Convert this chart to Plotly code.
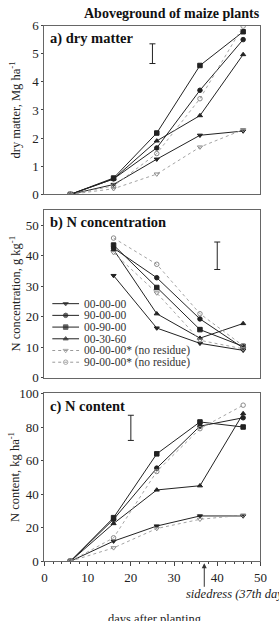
import plotly.graph_objects as go

W, H = 279, 621
days = [6, 16, 26, 36, 46]
series = ["00-00-00", "90-00-00", "00-90-00", "00-30-60",
          "00-00-00* (no residue)", "90-00-00* (no residue)"]

dry = {
    "00-00-00": [0, 0.35, 1.25, 2.1, 2.25],
    "90-00-00": [0, 0.55, 1.65, 3.7, 5.5],
    "00-90-00": [0, 0.58, 2.18, 4.58, 5.78],
    "00-30-60": [0, 0.55, 1.9, 2.8, 4.97],
    "00-00-00* (no residue)": [0, 0.2, 0.72, 1.68, 2.3],
    "90-00-00* (no residue)": [0, 0.3, 1.45, 3.4, 5.98],
}
nconc = {
    "00-00-00": [None, 33.5, 16.3, 11.3, 9.0],
    "90-00-00": [None, 42.5, 32.8, 19.3, 9.8],
    "00-90-00": [None, 43.5, 29.6, 15.8, 10.3],
    "00-30-60": [None, 42.0, 21.0, 13.0, 17.8],
    "00-00-00* (no residue)": [None, 41.0, 27.8, 12.3, 9.5],
    "90-00-00* (no residue)": [None, 45.8, 37.2, 21.0, 10.5],
}
ncont = {
    "00-00-00": [0, 12, 21, 27, 27],
    "90-00-00": [0, 25, 55.5, 80.5, 85.5],
    "00-90-00": [0, 26, 64, 83, 80],
    "00-30-60": [0, 22.5, 42.5, 45, 88],
    "00-00-00* (no residue)": [0, 8, 19.5, 25, 27.5],
    "90-00-00* (no residue)": [0, 14, 53.5, 79, 93],
}
# LSD-type error bars: x position, centre, half-length
err_x = [25, 40, 20]
err_y = [5.0, 40.0, 79.5]
err_h = [0.35, 4.5, 7.5]

styles = {
    "00-00-00": ("triangle-down", "#222", "solid"),
    "90-00-00": ("circle", "#222", "solid"),
    "00-90-00": ("square", "#222", "solid"),
    "00-30-60": ("triangle-up", "#222", "solid"),
    "00-00-00* (no residue)": ("triangle-down-open", "#8a8a8a", "dot"),
    "90-00-00* (no residue)": ("circle-open", "#8a8a8a", "dot"),
}

FONT = "Liberation Serif, Times New Roman, serif"
fig = go.Figure()

def px_y(top, bottom):
    return [1 - bottom / H, 1 - top / H]

xdom = [43 / W, 267 / W]
panels = [
    ("x", "y", dry, px_y(19, 192), [0, 6], 1, "a) dry matter", "dry matter, Mg ha<sup>-1</sup>"),
    ("x2", "y2", nconc, px_y(208, 380), [0, 55], 10, "b) N concentration", "N concentration, g kg<sup>-1</sup>"),
    ("x3", "y3", ncont, px_y(396, 568), [0, 100], 20, "c) N content", "N content, kg ha<sup>-1</sup>"),
]

layout = dict(width=W, height=H, margin=dict(l=0, r=0, t=0, b=0),
              paper_bgcolor="white", plot_bgcolor="white",
              showlegend=False, font=dict(family=FONT, size=13, color="#222"))
annotations = []
for i, (xa, ya, data, ydom, yr, dt, lab, ytitle) in enumerate(panels):
    for s in series:
        sym, col, dash = styles[s]
        lw = 1 if dash == "solid" else 0.9
        lc = col if dash == "solid" else "#9a9a9a"
        fig.add_trace(go.Scatter(x=days, y=data[s], xaxis=xa, yaxis=ya, mode="lines+markers",
                                 line=dict(color=lc, width=lw, dash=dash),
                                 marker=dict(symbol=sym, size=4.5, color=col, line=dict(color=col, width=1)),
                                 name=s))
    fig.add_trace(go.Scatter(x=[err_x[i]], y=[err_y[i]], xaxis=xa, yaxis=ya, mode="markers",
                             marker=dict(size=0.1, color="rgba(0,0,0,0)"),
                             error_y=dict(type="data", array=[err_h[i]], color="#222", thickness=1, width=3)))
    xkey = "xaxis" + ("" if i == 0 else str(i + 1))
    ykey = "yaxis" + ("" if i == 0 else str(i + 1))
    last = i == 2
    layout[xkey] = dict(domain=xdom, range=[0, 50], anchor=ya, showgrid=False, zeroline=False,
                        showline=True, mirror=True, linecolor="#666", linewidth=1,
                        showticklabels=last, ticks="outside" if last else "", ticklen=4,
                        tickcolor="#444", dtick=10, tickfont=dict(size=13, family=FONT),
                        minor=dict(ticks="outside" if last else "", dtick=2, ticklen=2, tickcolor="#444"))
    layout[ykey] = dict(domain=ydom, range=yr, anchor=xa, showgrid=False, zeroline=False,
                        showline=True, mirror=True, linecolor="#666", linewidth=1,
                        ticks="outside", ticklen=2, tickcolor="#444", dtick=dt,
                        tickfont=dict(size=13, family=FONT))
    annotations.append(dict(text="<b>" + lab + "</b>", xref="paper", yref="paper",
                            x=47 / W, y=ydom[1] - 13 / H, xanchor="left", yanchor="middle",
                            showarrow=False, font=dict(size=14.5, family=FONT, color="#111")))
    annotations.append(dict(text=ytitle, xref="paper", yref="paper", textangle=-90,
                            x=12 / W, y=(ydom[0] + ydom[1]) / 2, xanchor="center", yanchor="middle",
                            showarrow=False, font=dict(size=12.5, family=FONT)))

# manual compact legend in panel b
layout["xaxis4"] = dict(domain=[51 / W, 79 / W], range=[0, 2], visible=False, anchor="y4")
layout["yaxis4"] = dict(domain=px_y(298, 370), range=[6.5, 0.5], visible=False, anchor="x4")
for k, s in enumerate(series):
    sym, col, dash = styles[s]
    lc = col if dash == "solid" else "#9a9a9a"
    fig.add_trace(go.Scatter(x=[0, 1, 2], y=[k + 1] * 3, xaxis="x4", yaxis="y4", mode="lines+markers",
                             line=dict(color=lc, width=1, dash=dash),
                             marker=dict(symbol=sym, size=[0, 4.5, 0], color=col, line=dict(color=col, width=1))))
    annotations.append(dict(text=s, xref="paper", yref="y4", x=82 / W, y=k + 1,
                            xanchor="left", yanchor="middle", showarrow=False,
                            font=dict(size=11.5, family=FONT, color="#333")))

annotations += [
    dict(text="<b>Aboveground of maize plants</b>", xref="paper", yref="paper",
         x=175 / W, y=1 - 7 / H, xanchor="center", yanchor="middle", showarrow=False,
         font=dict(size=14, family=FONT, color="#111")),
    dict(text="", x=37, y=0, xref="x3", yref="y3", showarrow=True, ax=0, ay=27,
         arrowhead=2, arrowsize=1, arrowwidth=1, arrowcolor="#333", standoff=2),
    dict(text="<i>sidedress (37th day)</i>", xref="paper", yref="paper",
         x=188 / W, y=1 - 602 / H, xanchor="left", yanchor="middle", showarrow=False,
         font=dict(size=12.5, family=FONT)),
    dict(text="days after planting", xref="paper", yref="paper",
         x=158 / W, y=1 - 627 / H, xanchor="center", yanchor="middle", showarrow=False,
         font=dict(size=12.5, family=FONT)),
]
layout["annotations"] = annotations
fig.update_layout(**layout)
fig.write_html("out.html")
